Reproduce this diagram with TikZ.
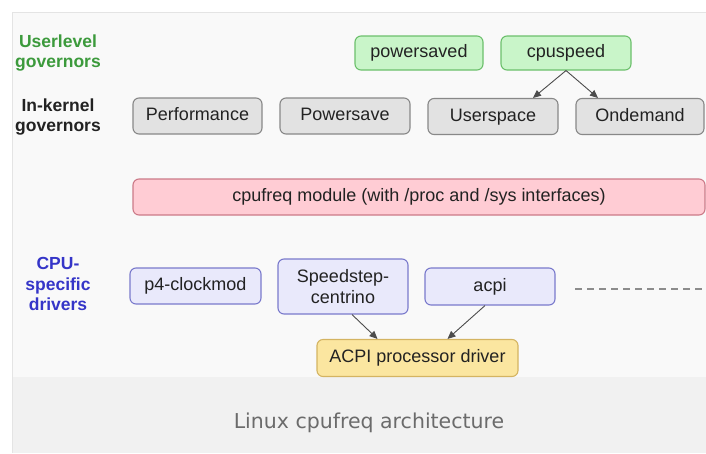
\documentclass[tikz,border=0pt]{standalone}
\usepackage{fontspec}
\setmainfont{Liberation Sans}
\newfontfamily\captionfont{DejaVu Sans}
\usetikzlibrary{calc,arrows.meta}

\definecolor{panelbg}{HTML}{F9F9F9}
\definecolor{captionbg}{HTML}{F1F1F1}
\definecolor{panelline}{HTML}{E4E4E4}
\definecolor{greenfill}{HTML}{C9F5C9}
\definecolor{greenline}{HTML}{6CC06C}
\definecolor{grayfill}{HTML}{E2E2E2}
\definecolor{grayline}{HTML}{888888}
\definecolor{pinkfill}{HTML}{FFCCD4}
\definecolor{pinkline}{HTML}{CC7A88}
\definecolor{lavfill}{HTML}{E9E9FB}
\definecolor{lavline}{HTML}{7A7ACC}
\definecolor{yellowfill}{HTML}{FBE6A0}
\definecolor{yellowline}{HTML}{D4B462}
\definecolor{greentext}{HTML}{3C9A3C}
\definecolor{bluetext}{HTML}{3535C8}
\definecolor{darktext}{HTML}{222222}

\tikzset{
  box/.style={rounded corners=6pt, line width=1.1pt, inner sep=0pt,
              align=center, font=\fontsize{18}{21}\selectfont, text=darktext},
  oneline/.style={text height=13pt, text depth=4pt},
  userbox/.style={box, oneline, fill=greenfill, draw=greenline, minimum height=34pt},
  kernbox/.style={box, oneline, fill=grayfill, draw=grayline, minimum height=36pt},
  corebox/.style={box, oneline, fill=pinkfill, draw=pinkline, minimum height=36pt},
  drvbox/.style={box, fill=lavfill, draw=lavline},
  acpibox/.style={box, oneline, fill=yellowfill, draw=yellowline, minimum height=37pt},
  rowlabel/.style={font=\bfseries\fontsize{17.5}{20.5}\selectfont, align=center},
  link/.style={draw=black!70, line width=0.9pt, -{Triangle[length=8pt,width=7pt]}}
}

\begin{document}
\begin{tikzpicture}[x=1pt,y=-1pt]
  \useasboundingbox (0,0) rectangle (706,453);
  % page and panel backgrounds
  \fill[white] (0,0) rectangle (706,453);
  \fill[panelbg] (12,12) rectangle (706,377);
  \fill[captionbg] (12,377) rectangle (706,453);
  \draw[panelline, line width=1pt] (12,453) -- (12,12) -- (706,12);

  % row labels
  \node[rowlabel, text=greentext] (lblUser) at (58,53) {Userlevel\\governors};
  \node[rowlabel, text=darktext] (lblKern) at (58,117) {In-kernel\\governors};
  \node[rowlabel, text=bluetext] (lblCpu) at (58,284) {CPU-\\specific\\drivers};

  % userlevel governors
  \node[userbox, minimum width=128pt] (powersaved) at (419,53) {powersaved};
  \node[userbox, minimum width=130pt] (cpuspeed) at (566,53) {cpuspeed};

  % in-kernel governors
  \node[kernbox, minimum width=129pt] (perf) at (197.5,116) {Performance};
  \node[kernbox, minimum width=130pt] (psave) at (345,116) {Powersave};
  \node[kernbox, minimum width=130pt] (uspace) at (493,116.5) {Userspace};
  \node[kernbox, minimum width=128pt] (ondemand) at (640,116.5) {Ondemand};

  % core module
  \node[corebox, minimum width=572pt] (cpufreq) at (419,197) {cpufreq module (with /proc and /sys interfaces)};

  % cpu-specific drivers
  \node[drvbox, oneline, minimum width=131pt, minimum height=36pt] (p4) at (195.5,286) {p4-clockmod};
  \node[drvbox, minimum width=130pt, minimum height=55pt] (speedstep) at (343,286.5) {Speedstep-\\centrino};
  \node[drvbox, oneline, minimum width=130pt, minimum height=37pt] (acpi) at (490,286.5) {acpi};
  \coordinate (moreA) at (575,289);
  \coordinate (moreB) at (706,289);
  \draw[black!45, line width=1.1pt, dash pattern=on 7pt off 5pt] (moreA) -- (moreB);

  % acpi processor driver
  \node[acpibox, minimum width=201pt] (acpidrv) at (417.5,358) {ACPI processor driver};

  % connectors
  \draw[link] (cpuspeed.south) -- ($(uspace.north)+(40,0)$);
  \draw[link] (cpuspeed.south) -- ($(ondemand.north)+(-42,0)$);
  \draw[link] ($(speedstep.south)+(9,0)$) -- ($(acpidrv.north)+(-40,0)$);
  \draw[link] ($(acpi.south)+(-5,0)$) -- ($(acpidrv.north)+(30,0)$);

  % caption
  \node[font=\captionfont\fontsize{20.5}{24}\selectfont, text=black!58] (caption) at (369,423) {Linux cpufreq architecture};
\end{tikzpicture}
\end{document}
